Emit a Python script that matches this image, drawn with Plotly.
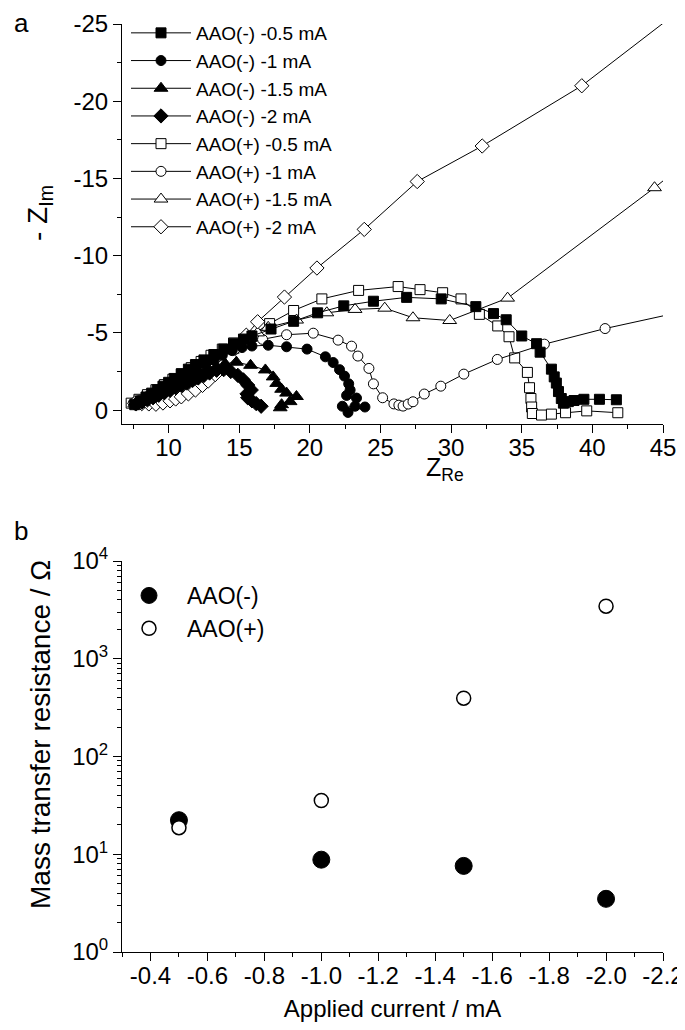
import plotly.graph_objects as go

# ---- panel a: Nyquist plots (Z_Re, Z_Im in ohm) ----
neg05_re = [7.6, 8.0, 8.4, 8.8, 9.2, 9.6, 10.0, 10.4, 10.9, 11.4, 11.9, 12.5, 13.2, 13.9, 14.6, 15.3, 15.9,
            17.25, 18.85, 20.55, 22.4, 24.5, 26.85, 29.3, 31.75, 33.0, 33.9, 35.0, 36.05, 36.3, 37.1, 37.3,
            37.45, 37.6, 37.8, 37.95, 38.3, 38.7, 39.4, 40.5, 41.7]
neg05_im = [-0.35, -0.6, -0.85, -1.1, -1.32, -1.55, -1.8, -2.05, -2.35, -2.65, -2.95, -3.25, -3.6, -3.95, -4.3,
            -4.6, -4.8, -5.25, -5.75, -6.3, -6.75, -7.05, -7.3, -7.2, -6.7, -6.25, -5.85, -4.8, -4.3, -3.75,
            -2.65, -2.15, -1.75, -1.2, -0.75, -0.45, -0.55, -0.62, -0.7, -0.7, -0.67]

neg1_re = [7.7, 8.1, 8.5, 8.9, 9.3, 9.7, 10.1, 10.5, 11.0, 11.5, 12.0, 12.6, 13.2, 13.8, 14.5, 15.2, 15.9,
           17.05, 18.35, 19.8, 21.1, 21.65, 22.1, 22.45, 22.75, 22.85, 22.6, 23.3, 23.2, 22.3, 22.7, 23.9]
neg1_im = [-0.35, -0.55, -0.78, -1.0, -1.2, -1.42, -1.65, -1.88, -2.15, -2.42, -2.68, -2.95, -3.25, -3.55,
           -3.85, -4.05, -4.15, -4.2, -4.1, -3.95, -3.45, -3.08, -2.62, -2.2, -1.7, -1.3, -0.95, -0.78,
           -0.25, -0.25, 0.15, -0.2]

neg15_re = [7.8, 8.2, 8.6, 9.0, 9.4, 9.8, 10.2, 10.7, 11.2, 11.7, 12.2, 12.8, 13.4, 14.0, 14.8, 15.8, 16.85,
            17.4, 17.65, 18.0, 18.35, 19.05, 18.6, 18.0, 17.9]
neg15_im = [-0.35, -0.52, -0.7, -0.9, -1.08, -1.28, -1.47, -1.7, -1.93, -2.15, -2.38, -2.6, -2.82, -3.0,
            -3.1, -2.9, -2.6, -2.15, -1.73, -1.35, -1.1, -0.88, -0.55, -0.35, -0.15]

neg2_re = [7.7, 8.1, 8.5, 8.9, 9.3, 9.7, 10.1, 10.5, 10.9, 11.3, 11.7, 12.1, 12.5, 12.9, 13.4, 13.9, 14.4,
           14.9, 15.3, 15.6, 15.85, 15.55, 15.6, 15.9, 16.2, 16.55]
neg2_im = [-0.4, -0.52, -0.66, -0.8, -0.96, -1.12, -1.28, -1.45, -1.6, -1.75, -1.92, -2.08, -2.24, -2.4,
           -2.58, -2.62, -2.5, -2.25, -1.95, -1.62, -1.3, -1.05, -0.8, -0.6, -0.42, -0.25]

pos05_re = [7.35, 7.9, 8.5, 9.1, 9.7, 10.3, 10.9, 11.6, 12.3, 13.0, 13.8, 14.6, 15.8, 17.15, 18.85, 20.85,
            23.45, 26.25, 27.8, 29.4, 30.7, 32.0, 33.3, 34.1, 34.5, 35.4, 35.55, 35.65, 35.7, 35.75, 36.4,
            37.1, 38.1, 39.6, 41.8]
pos05_im = [-0.45, -0.7, -1.0, -1.32, -1.65, -2.0, -2.35, -2.75, -3.15, -3.55, -3.95, -4.35, -4.8, -5.6,
            -6.45, -7.2, -7.75, -8.0, -7.8, -7.6, -7.2, -6.2, -5.45, -4.75, -3.38, -2.44, -1.45, -0.75,
            -0.2, 0.22, 0.32, 0.26, 0.17, 0.05, 0.17]

pos1_re = [7.5, 8.0, 8.5, 9.0, 9.5, 10.0, 10.5, 11.0, 11.5, 12.0, 12.5, 13.1, 13.7, 14.4, 15.1, 16.65, 18.35,
           20.24, 22.0, 22.95, 23.4, 24.18, 24.5, 25.15, 25.95, 26.3, 26.6, 26.96, 27.3, 28.1, 29.27, 30.9,
           33.27, 36.6, 40.9, 46.0]
pos1_im = [-0.45, -0.65, -0.88, -1.1, -1.33, -1.57, -1.8, -2.05, -2.3, -2.56, -2.82, -3.12, -3.45, -3.8,
           -4.15, -4.58, -4.88, -4.98, -4.53, -4.14, -3.5, -2.7, -1.7, -0.8, -0.4, -0.32, -0.26, -0.39,
           -0.54, -1.04, -1.55, -2.33, -3.28, -4.27, -5.28, -6.3]

pos15_re = [7.6, 8.1, 8.6, 9.1, 9.6, 10.1, 10.6, 11.1, 11.6, 12.1, 12.7, 13.3, 13.9, 14.5, 15.1, 15.7, 16.3,
            17.05, 19.06, 21.2, 23.2, 25.3, 27.3, 29.9, 34.0, 44.4, 47.0]
pos15_im = [-0.4, -0.6, -0.82, -1.05, -1.28, -1.52, -1.76, -2.0, -2.25, -2.52, -2.82, -3.15, -3.5, -3.88,
            -4.25, -4.65, -5.0, -5.36, -5.83, -6.3, -6.52, -6.6, -5.98, -5.8, -7.25, -14.4, -16.3]

pos2_re = [7.6, 8.1, 8.6, 9.1, 9.6, 10.1, 10.5, 10.9, 11.4, 11.9, 12.4, 12.8, 13.3, 13.8, 14.3, 14.8, 15.5,
           16.3, 18.2, 20.5, 23.85, 27.6, 32.2, 39.25, 46.5]
pos2_im = [-0.45, -0.42, -0.4, -0.38, -0.46, -0.6, -0.72, -0.86, -1.05, -1.3, -1.6, -1.88, -2.3, -2.85,
           -3.45, -4.05, -4.85, -5.72, -7.32, -9.2, -11.7, -14.8, -17.1, -21.0, -26.1]

# ---- panel b: mass transfer resistance ----
current = [-0.5, -1.0, -1.5, -2.0]
rmt_neg = [22.3, 8.8, 7.6, 3.5]
rmt_pos = [18.7, 35.5, 395, 3450]

# ticks
a_xticks = [10, 15, 20, 25, 30, 35, 40, 45]
a_yticks = [-25, -20, -15, -10, -5, 0]
a_yticklabels = ["-25", "-20", "-15", "-10", "-5", "0"]
b_xticks = [-0.4, -0.6, -0.8, -1.0, -1.2, -1.4, -1.6, -1.8, -2.0, -2.2]
b_xticklabels = ["-0.4", "-0.6", "-0.8", "-1.0", "-1.2", "-1.4", "-1.6", "-1.8", "-2.0", "-2.2"]
b_yticks = [1, 10, 100, 1000, 10000]
b_yticklabels = ["10<sup>0</sup>", "10<sup>1</sup>", "10<sup>2</sup>", "10<sup>3</sup>", "10<sup>4</sup>"]
b_yminor = [m * 10 ** k for k in range(4) for m in range(2, 10)]

FONT = "Arial, Liberation Sans, sans-serif"
# the page body adds an 8 px margin, so the figure is a bit smaller than the window
W, H = 677, 1022


def px(x=None, y=None):
    # figure pixels -> paper fraction
    if x is not None:
        return x / W
    return 1 - y / H


fig = go.Figure()

# name, x, y, symbol, filled, size, legend rank
series = [
    ("AAO(+) -0.5 mA", pos05_re, pos05_im, "square", False, 10, 5),
    ("AAO(+) -1 mA", pos1_re, pos1_im, "circle", False, 10, 6),
    ("AAO(+) -1.5 mA", pos15_re, pos15_im, "triangle-up", False, 12, 7),
    ("AAO(+) -2 mA", pos2_re, pos2_im, "diamond", False, 11, 8),
    ("AAO(-) -0.5 mA", neg05_re, neg05_im, "square", True, 10, 1),
    ("AAO(-) -1 mA", neg1_re, neg1_im, "circle", True, 10, 2),
    ("AAO(-) -1.5 mA", neg15_re, neg15_im, "triangle-up", True, 12, 3),
    ("AAO(-) -2 mA", neg2_re, neg2_im, "diamond", True, 11, 4),
]
for name, xs, ys, sym, filled, sz, rank in series:
    fig.add_trace(go.Scatter(
        x=xs, y=ys, name=name, mode="lines+markers", legendrank=rank,
        line=dict(color="black", width=1),
        marker=dict(symbol=sym, size=sz, color="black" if filled else "white",
                    line=dict(color="black", width=1)),
        xaxis="x", yaxis="y", legend="legend",
    ))

fig.add_trace(go.Scatter(
    x=current, y=rmt_neg, name="AAO(-)", mode="markers",
    marker=dict(symbol="circle", size=17, color="black", line=dict(color="black", width=1)),
    xaxis="x2", yaxis="y2", legend="legend2",
))
fig.add_trace(go.Scatter(
    x=current, y=rmt_pos, name="AAO(+)", mode="markers",
    marker=dict(symbol="circle", size=14, color="white", line=dict(color="black", width=1.5)),
    xaxis="x2", yaxis="y2", legend="legend2",
))

xdom = [px(x=114), px(x=655)]
ax_common = dict(showline=True, linecolor="black", linewidth=1, ticks="outside", ticklen=8,
                 tickwidth=1, tickcolor="black", showgrid=False, zeroline=False, mirror=False,
                 automargin=False, tickfont=dict(size=24, color="black"))

fig.update_layout(
    width=W, height=H, margin=dict(l=0, r=0, t=0, b=0, autoexpand=False),
    paper_bgcolor="white", plot_bgcolor="white",
    font=dict(family=FONT, color="black"),
    xaxis=dict(domain=xdom, range=[6.7, 45], anchor="y", tickvals=a_xticks, ticklabelstandoff=-6,
               minor=dict(dtick=2.5, tick0=0, ticks="outside", ticklen=4, tickcolor="black"),
               **ax_common),
    yaxis=dict(domain=[px(y=416), px(y=16)], range=[0.9, -25], anchor="x",
               tickvals=a_yticks, ticktext=a_yticklabels,
               minor=dict(dtick=2.5, tick0=0, ticks="outside", ticklen=4, tickcolor="black"),
               **ax_common),
    xaxis2=dict(domain=xdom, range=[-0.3, -2.2], anchor="y2",
                tickvals=b_xticks, ticktext=b_xticklabels, ticklabelstandoff=-6,
                minor=dict(dtick=0.1, tick0=0, ticks="outside", ticklen=4, tickcolor="black"),
                title=dict(text="Applied current / mA", font=dict(size=24), standoff=12),
                **ax_common),
    yaxis2=dict(domain=[px(y=944), px(y=553)], type="log", range=[0, 4], anchor="x2",
                tickvals=b_yticks, ticktext=b_yticklabels,
                minor=dict(tickvals=b_yminor, ticks="outside", ticklen=4, tickcolor="black"),
                **ax_common),
    legend=dict(x=px(x=118), y=px(y=6), xanchor="left", yanchor="top",
                font=dict(size=19, color="black"), bgcolor="rgba(0,0,0,0)",
                itemwidth=60, tracegroupgap=0),
    legend2=dict(x=px(x=103), y=px(y=566), xanchor="left", yanchor="top",
                 font=dict(size=23, color="black"), bgcolor="rgba(0,0,0,0)",
                 itemwidth=66),
    annotations=[
        dict(text="a", x=px(x=13), y=px(y=15), xref="paper", yref="paper", showarrow=False,
             xanchor="center", yanchor="middle", font=dict(size=26)),
        dict(text="b", x=px(x=13), y=px(y=523), xref="paper", yref="paper", showarrow=False,
             xanchor="center", yanchor="middle", font=dict(size=26)),
        dict(text="Z<sub>Re</sub>", x=px(x=437), y=px(y=461), xref="paper", yref="paper",
             showarrow=False, xanchor="center", yanchor="middle", font=dict(size=25)),
        dict(text="- Z<sub>Im</sub>", x=px(x=32), y=px(y=205), xref="paper", yref="paper",
             showarrow=False, xanchor="center", yanchor="middle", textangle=-90, font=dict(size=28)),
        dict(text="Mass transfer resistance / Ω", x=px(x=32), y=px(y=727), xref="paper", yref="paper",
             showarrow=False, xanchor="center", yanchor="middle", textangle=-90, font=dict(size=28)),
    ],
)

fig.write_html("out.html")
